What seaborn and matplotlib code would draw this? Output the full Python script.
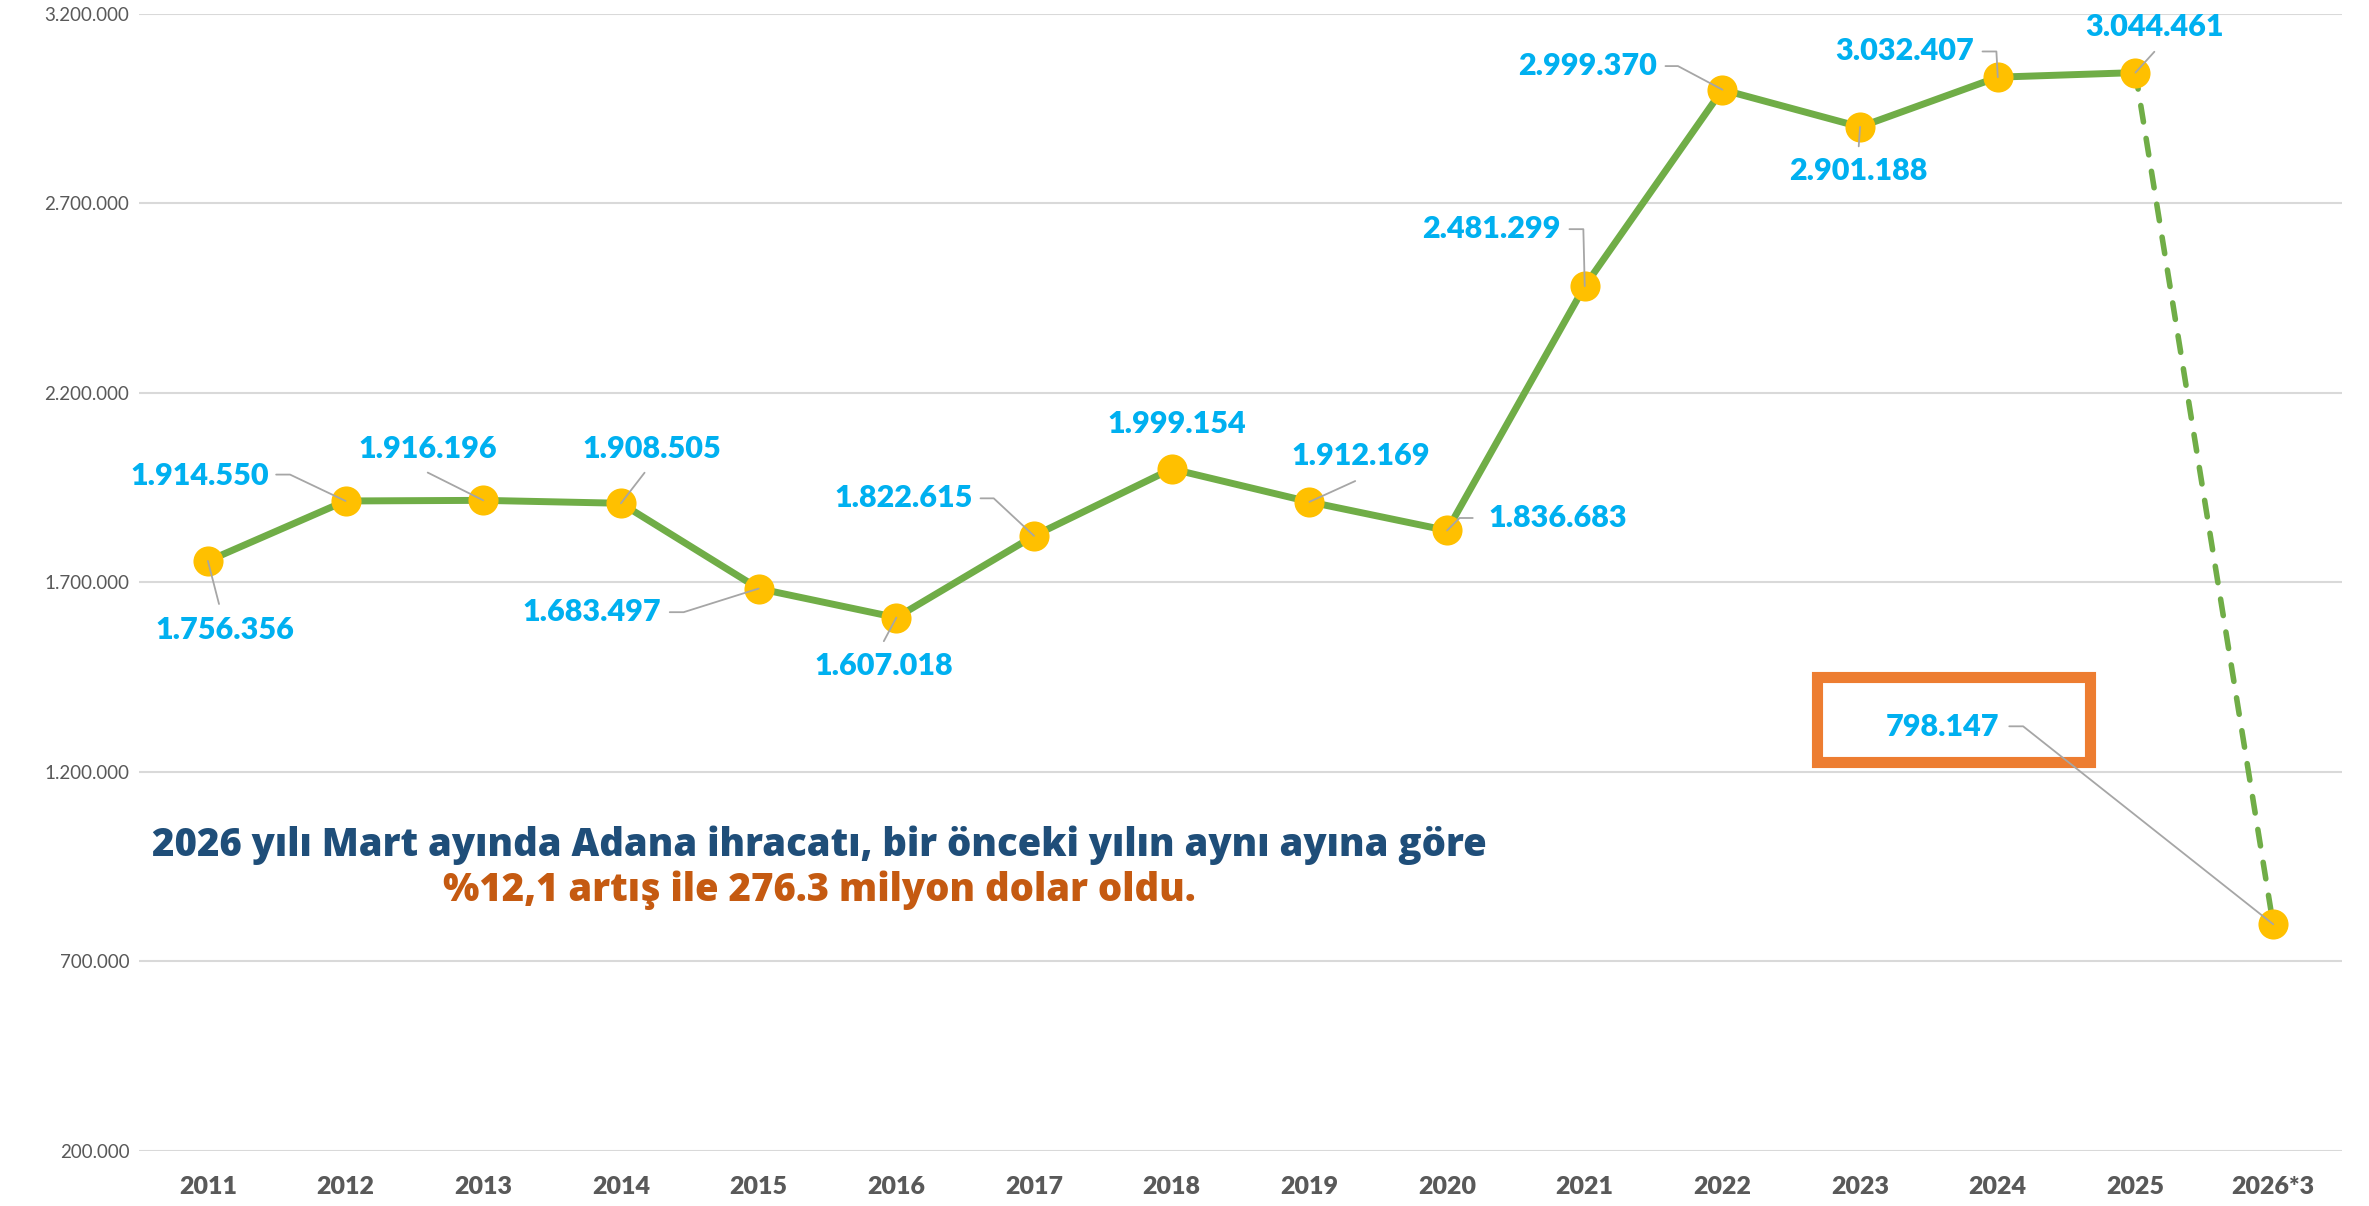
import matplotlib
matplotlib.use("Agg")
import matplotlib.pyplot as plt
import matplotlib.patches as mpatches
import numpy as np
import pandas as pd
import seaborn as sns

# ---------------- data ----------------
years = ["2011", "2012", "2013", "2014", "2015", "2016", "2017", "2018",
         "2019", "2020", "2021", "2022", "2023", "2024", "2025", "2026*3"]
values = [1756356, 1914550, 1916196, 1908505, 1683497, 1607018, 1822615, 1999154,
          1912169, 1836683, 2481299, 2999370, 2901188, 3032407, 3044461, 798147]
value_labels = ["1.756.356", "1.914.550", "1.916.196", "1.908.505", "1.683.497",
                "1.607.018", "1.822.615", "1.999.154", "1.912.169", "1.836.683",
                "2.481.299", "2.999.370", "2.901.188", "3.032.407", "3.044.461",
                "798.147"]
y_ticks = [200000, 700000, 1200000, 1700000, 2200000, 2700000, 3200000]
y_tick_labels = ["200.000", "700.000", "1.200.000", "1.700.000", "2.200.000",
                 "2.700.000", "3.200.000"]
note_line1 = "2026 yılı Mart ayında Adana ihracatı, bir önceki yılın aynı ayına göre"
note_line2 = "%12,1 artış ile 276.3 milyon dolar oldu."

# label offsets (points) relative to each point
label_off = [(12, -50), (-105, 18), (-40, 37), (22, 39), (-120, -17), (-9, -35),
             (-94, 27), (4, 32), (37, 33), (80, 9), (-67, 41), (-97, 17),
             (-1, -32), (-67, 19), (14, 33), (-238, 142)]
# leader line vertices (points offsets from the point), last vertex = point itself
leaders = [[(8, -31)], [(-50, 19), (-40, 19)], [(-40, 20)], [(17, 22)],
           [(-64, -17), (-54, -17)], [(-9, -17)], [(-38.5, 27), (-29, 27)], None,
           [(33, 15)], [(18.5, 9), (9, 9)], [(-11, 41), (-1, 41)],
           [(-41, 17), (-32, 17)], [(-1, -14)], [(-11, 18.5), (-1, 18.5)],
           [(13.6, 15)], [(-190, 142.5), (-180, 142.5)]]

GREEN = "#70AD47"
YELLOW = "#FFC000"
BLUE = "#00B0F0"
GRAY = "#595959"

sns.set_theme(style="white")
plt.rcParams["font.family"] = ["Lato", "DejaVu Sans"]

DPI = 100
fig = plt.figure(figsize=(2369 / DPI, 1206 / DPI), dpi=DPI)
ax = fig.add_axes([0.0587, 0.0456, 0.9299, 0.9431])

idx = np.arange(len(years))
df = pd.DataFrame({"x": idx, "y": values})
solid = df.iloc[:15]
dashed = df.iloc[14:]

sns.lineplot(data=solid, x="x", y="y", ax=ax, color=GREEN, lw=5, zorder=3)
sns.lineplot(data=dashed, x="x", y="y", ax=ax, color=GREEN, lw=4, zorder=3)
ax.lines[-1].set_dashes([3.0, 3.0])
ax.lines[-1].set_dash_capstyle("round")
sns.scatterplot(data=df, x="x", y="y", ax=ax, color=YELLOW, s=470,
                edgecolor=YELLOW, linewidth=0, zorder=4)

ax.set_xlim(-0.5, len(years) - 0.5)
ax.set_ylim(200000, 3200000)
ax.set_yticks(y_ticks)
ax.set_yticklabels(y_tick_labels, fontsize=13.5, color=GRAY)
ax.set_xticks(idx)
ax.set_xticklabels(years, fontsize=18, color=GRAY, fontweight="heavy")
ax.tick_params(axis="y", length=0, pad=7)
ax.tick_params(axis="x", length=0, pad=18)
ax.yaxis.grid(True, color="#D9D9D9", lw=1.5)
ax.xaxis.grid(False)
for s in ax.spines.values():
    s.set_visible(False)
ax.set_xlabel("")
ax.set_ylabel("")

# data labels
for i, (v, lab, off) in enumerate(zip(values, value_labels, label_off)):
    ax.annotate(lab, xy=(i, v), xytext=off, textcoords="offset points",
                ha="center", va="center", fontsize=22, fontweight="heavy",
                color=BLUE, zorder=6)

# leader lines
fig.canvas.draw()
to_fig = fig.transFigure.inverted()
for i, (v, verts) in enumerate(zip(values, leaders)):
    if not verts:
        continue
    px, py = ax.transData.transform((i, v))
    pts = [(px + dx * DPI / 72, py + dy * DPI / 72) for dx, dy in verts] + [(px, py)]
    pts = to_fig.transform(pts)
    fig.add_artist(plt.Line2D(pts[:, 0], pts[:, 1], color="#A6A6A6", lw=1.3,
                              transform=fig.transFigure, zorder=7))

# orange highlight box around the last label
rect = mpatches.Rectangle((11.69, 1226000), 13.67 - 11.69, 1449000 - 1226000,
                          fill=False, edgecolor="#ED7D31", lw=8, zorder=5)
ax.add_patch(rect)

# note text
fig.text(0.346, 0.2993, note_line1, ha="center", va="center", fontsize=27.5,
         fontweight="heavy", color="#1F4E79", family=["Open Sans", "DejaVu Sans"])
fig.text(0.346, 0.262, note_line2, ha="center", va="center", fontsize=27.5,
         fontweight="heavy", color="#C55A11", family=["Open Sans", "DejaVu Sans"])

fig.savefig("out.png", dpi=DPI)
